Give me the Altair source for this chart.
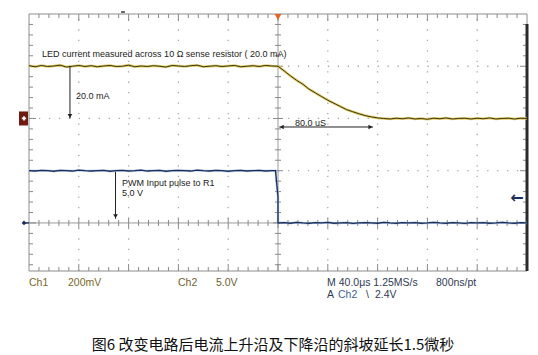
import altair as alt
import pandas as pd

# ---------------- data ----------------
# Horizontal: 40 us/div, 10 divisions, trigger point (0 us) at the centre line
time_domain = [-200, 200]
# Vertical: screen divisions, centre graticule line = 0
div_domain = [-0.92, 4.0]

# Ch1 : LED current (mA) -- 200 mV/div across 10 ohm -> 20 mA/div, ground at +2 div
ch1_ground_div = 2.0
ch1_mA_per_div = 20.0
ch1_time_us = list(range(-200, 201, 5))
ch1_current_mA = [
    # -200 .. 0 us
    20.2, 19.8, 20.3, 19.9, 20.1, 20.4, 19.7, 20.0, 20.3, 19.9,
    20.2, 19.8, 20.1, 20.3, 19.9, 20.0, 20.4, 19.8, 20.1, 19.9,
    20.2, 20.0, 19.7, 20.3, 20.1, 19.9, 20.2, 20.4, 19.8, 20.0,
    20.2, 19.9, 20.1, 20.3, 19.8, 20.0, 20.2, 19.9, 20.3, 20.1,
    20.0,
    # 5 .. 200 us
    18.2, 16.3, 14.6, 13.1, 11.2, 9.8, 8.4, 7.0, 5.8, 4.6,
    3.4, 2.6, 1.8, 1.1, 0.6, 0.2, 0.0, -0.2, 0.1, -0.1,
    0.2, -0.2, 0.0, -0.3, 0.1, -0.1, 0.2, -0.2, 0.0, 0.1,
    -0.2, 0.1, -0.1, 0.2, -0.2, 0.0, 0.1, -0.2, 0.1, 0.0,
]

# Ch2 : PWM input pulse (V) -- 5 V/div, ground at the centre line
ch2_ground_div = 0.0
ch2_V_per_div = 5.0
ch2_time_us = list(range(-200, -4, 5)) + [-2, 0, 0] + list(range(5, 201, 5))
ch2_volts = [
    5.0, 4.97, 5.03, 5.0, 4.95, 5.03, 5.0, 4.97, 5.05, 5.0,
    4.97, 5.0, 5.03, 4.95, 5.0, 5.03, 4.97, 5.0, 5.05, 4.97,
    5.0, 5.03, 4.95, 5.0, 5.03, 5.0, 4.97, 5.05, 5.0, 4.97,
    5.03, 5.0, 4.95, 5.0, 5.03, 4.97, 5.0, 5.03, 4.97, 5.0,
    5.0, 2.5, 0.0,
    0.03, -0.03, 0.05, 0.0, -0.03, 0.03, 0.0, 0.05, -0.03, 0.0,
    0.03, -0.05, 0.0, 0.03, 0.0, -0.03, 0.05, 0.0, -0.03, 0.03,
    0.0, 0.03, -0.03, 0.0, 0.05, 0.0, -0.03, 0.03, 0.0, -0.05,
    0.03, 0.0, 0.03, -0.03, 0.0, 0.05, 0.0, -0.03, 0.03, 0.0,
]
trigger_level_V = 2.4

# on-screen annotations (time in us, height in divisions)
ann_text = ["LED current measured across 10 \u03a9 sense resistor ( 20.0 mA)",
            "20.0 mA", "80.0 uS", "PWM Input pulse to R1", "5.0 V"]
ann_t = [-189.5, -162.2, 13.7, -125.3, -125.3]
ann_d = [3.234, 2.43, 1.919, 0.77, 0.568]

# measurement arrows
arrow_x = [-167.1, -130.5]          # vertical arrows (us)
arrow_top = [3.0, 0.98]
arrow_bottom = [2.0, 0.08]
span_t = [1.0, 76.3]                 # 80 us horizontal arrow
span_d = 1.837

# scope readout below the graticule
readout_text = ["Ch1", "200mV", "Ch2", "5.0V", "M 40.0\u03bcs 1.25MS/s", "800ns/pt",
                "A", "Ch2", "\\", "2.4V"]
readout_t = [-200.0, -168.7, -80.3, -49.8, 39.4, 126.9, 39.4, 48.2, 70.7, 77.9]
readout_d = [-1.15, -1.15, -1.15, -1.15, -1.15, -1.15, -1.379, -1.379, -1.379, -1.379]
readout_color = ["#7a682a", "#7a682a", "#6e6230", "#6e6230", "#2f3a55", "#2f3a55",
                 "#2f3a55", "#3d5f95", "#2f3a55", "#2f3a55"]

caption = "\u56fe6 \u6539\u53d8\u7535\u8def\u540e\u7535\u6d41\u4e0a\u5347\u6cbf\u53ca\u4e0b\u964d\u6cbf\u7684\u659c\u5761\u5ef6\u957f1.5\u5fae\u79d2"
caption_t = -149.6
caption_d = -2.337

# ---------------- geometry helpers ----------------
W, H = 498, 257
X0, X1 = time_domain
Y0, Y1 = div_domain
PX_T = (X1 - X0) / W
PX_D = (Y1 - Y0) / H

XS = alt.Scale(domain=time_domain, nice=False, zero=False)
YS = alt.Scale(domain=div_domain, nice=False, zero=False)


def X(f="t"):
    return alt.X(f"{f}:Q", scale=XS, axis=None)


def Y(f="d"):
    return alt.Y(f"{f}:Q", scale=YS, axis=None)


def rules(df, **kw):
    return alt.Chart(df).mark_rule(**kw).encode(
        x=X("x"), x2=alt.X2("x2"), y=Y("y"), y2=alt.Y2("y2"))


# graticule dotted grid
grid_v = pd.DataFrame({"x": [-160, -120, -80, -40, 40, 80, 120, 160]})
grid_v["x2"] = grid_v["x"]
grid_v["y"] = Y0
grid_v["y2"] = Y1
grid_h = pd.DataFrame({"y": [1.0, 2.0, 3.0]})
grid_h["y2"] = grid_h["y"]
grid_h["x"] = X0
grid_h["x2"] = X1

centre = pd.DataFrame({"x": [X0, 0], "x2": [X1, 0], "y": [0, Y0], "y2": [0, Y1]})

# tick marks on the border and the centre axes
rows = []
for i in range(51):
    t = X0 + 8 * i
    major = i % 5 == 0
    if 0 < i < 50:
        L = 7 if major else 4
        rows.append((t, t, Y1, Y1 - L * PX_D))
        rows.append((t, t, Y0, Y0 + L * PX_D))
        c = 5 if major else 3
        rows.append((t, t, -c * PX_D, c * PX_D))
for j in range(25):
    d = round(-0.8 + 0.2 * j, 3)
    major = abs(d - round(d)) < 1e-6
    if d < Y1:
        L = 7 if major else 4
        rows.append((X0, X0 + L * PX_T, d, d))
        rows.append((X1, X1 - L * PX_T, d, d))
        c = 5 if major else 3
        rows.append((-c * PX_T, c * PX_T, d, d))
ticks = pd.DataFrame(rows, columns=["x", "x2", "y", "y2"])

border = pd.DataFrame({"x": [X0, X0, X0, X1], "x2": [X1, X0, X1, X1],
                       "y": [Y1, Y0, Y0, Y0], "y2": [Y1, Y1, Y0, Y1]})
right_bar = pd.DataFrame({"x": [X1], "x2": [X1], "y": [Y0], "y2": [Y1 - 10 * PX_D]})

# traces
ch1 = pd.DataFrame({"t": ch1_time_us,
                    "d": [ch1_ground_div + v / ch1_mA_per_div for v in ch1_current_mA],
                    "i": list(range(len(ch1_time_us)))})
ch2 = pd.DataFrame({"t": ch2_time_us,
                    "d": [ch2_ground_div + v / ch2_V_per_div for v in ch2_volts],
                    "i": list(range(len(ch2_time_us)))})


def trace(df, color, width, opacity=1.0):
    return alt.Chart(df).mark_line(color=color, strokeWidth=width, opacity=opacity).encode(
        x=X(), y=Y(), order="i:Q")


# arrows
arrow_lines = pd.DataFrame({"x": arrow_x + [span_t[0]], "x2": arrow_x + [span_t[1]],
                            "y": arrow_top + [span_d], "y2": arrow_bottom + [span_d]})
heads_down = pd.DataFrame({"t": arrow_x, "d": [b + 2.5 * PX_D for b in arrow_bottom]})
head_left = pd.DataFrame({"t": [span_t[0] + 2.5 * PX_T], "d": [span_d]})
head_right = pd.DataFrame({"t": [span_t[1] - 2.5 * PX_T], "d": [span_d]})


def heads(df, shape):
    return alt.Chart(df).mark_point(shape=shape, filled=True, size=22, color="#222",
                                    opacity=1).encode(x=X(), y=Y())


# channel / trigger markers
ch1_box = pd.DataFrame({"x": [X0 - 10 * PX_T], "x2": [X0 - 1 * PX_T],
                        "y": [ch1_ground_div - 7 * PX_D], "y2": [ch1_ground_div + 7 * PX_D]})
ch1_box_mark = pd.DataFrame({"t": [X0 - 5 * PX_T], "d": [ch1_ground_div]})
ch2_mark = pd.DataFrame({"t": [X0 - 5 * PX_T], "d": [ch2_ground_div]})
ch2_mark_line = pd.DataFrame({"x": [X0 - 5 * PX_T], "x2": [X0], "y": [ch2_ground_div],
                              "y2": [ch2_ground_div]})
trig_pos = pd.DataFrame({"t": [0.0], "d": [Y1 - 3 * PX_D]})
trig_level = pd.DataFrame({"t": [X1 - 10 * PX_T], "d": [trigger_level_V / ch2_V_per_div],
                           "s": ["\u2190"]})
hpos = pd.DataFrame({"x": [-126.0], "x2": [-123.0], "y": [Y1 + 2 * PX_D], "y2": [Y1 + 2 * PX_D]})

ann = pd.DataFrame({"t": ann_t, "d": ann_d, "s": ann_text})
readout = pd.DataFrame({"t": readout_t, "d": readout_d, "s": readout_text, "c": readout_color})
cap = pd.DataFrame({"t": [caption_t], "d": [caption_d], "s": [caption]})

layers = [
    rules(grid_v, color="#a8a8a8", strokeWidth=1.3, strokeDash=[1.3, 9.15]),
    rules(grid_h, color="#a8a8a8", strokeWidth=1.3, strokeDash=[1.3, 8.66]),
    rules(centre, color="#9a9a9a", strokeWidth=1),
    rules(ticks, color="#8a8a8a", strokeWidth=1),
    rules(border, color="#8c8c8c", strokeWidth=1),
    rules(right_bar, color="#2a2a2a", strokeWidth=3),
    rules(hpos, color="#333333", strokeWidth=1.5),
    trace(ch1, "#d9c24a", 2.6, 0.85),
    trace(ch1, "#3f3612", 1.0),
    trace(ch2, "#9dbbe0", 2.4, 0.7),
    trace(ch2, "#1c2f5c", 1.3),
    rules(arrow_lines, color="#222222", strokeWidth=1),
    heads(heads_down, "triangle-down"),
    heads(head_left, "triangle-left"),
    heads(head_right, "triangle-right"),
    rules(ch1_box, color="#6e1a12", strokeWidth=1).mark_rect(color="#6e1a12"),
    alt.Chart(ch1_box_mark).mark_point(shape="cross", filled=True, size=18, color="white",
                                       opacity=1).encode(x=X(), y=Y()),
    rules(ch2_mark_line, color="#1c2f5c", strokeWidth=1.5),
    alt.Chart(ch2_mark).mark_point(shape="diamond", filled=True, size=22, color="#1c2f5c",
                                   opacity=1).encode(x=X(), y=Y()),
    alt.Chart(trig_pos).mark_point(shape="triangle-down", filled=True, size=45,
                                   color="#e8641e", opacity=1).encode(x=X(), y=Y()),
    alt.Chart(trig_level).mark_text(font="DejaVu Sans", fontSize=16, fontWeight="bold",
                                    color="#1c2f5c", align="center",
                                    baseline="middle").encode(x=X(), y=Y(), text="s:N"),
    alt.Chart(ann).mark_text(font="Liberation Sans", fontSize=9, color="#222222",
                             align="left", baseline="middle").encode(x=X(), y=Y(), text="s:N"),
    alt.Chart(readout).mark_text(font="Liberation Sans", fontSize=10.5, align="left",
                                 baseline="middle").encode(
        x=X(), y=Y(), text="s:N", color=alt.Color("c:N", scale=None)),
    alt.Chart(cap).mark_text(font="Noto Sans CJK SC", fontSize=15, color="#111111",
                             align="left", baseline="middle").encode(x=X(), y=Y(), text="s:N"),
]

chart = alt.layer(*layers).properties(
    width=W, height=H,
    autosize=alt.AutoSizeParams(type="none"),
    padding={"left": 29, "top": 14, "right": 11, "bottom": 84},
    background="white",
).configure_view(stroke=None)

chart.save("out.html", embed_options={"renderer": "svg", "actions": False})
